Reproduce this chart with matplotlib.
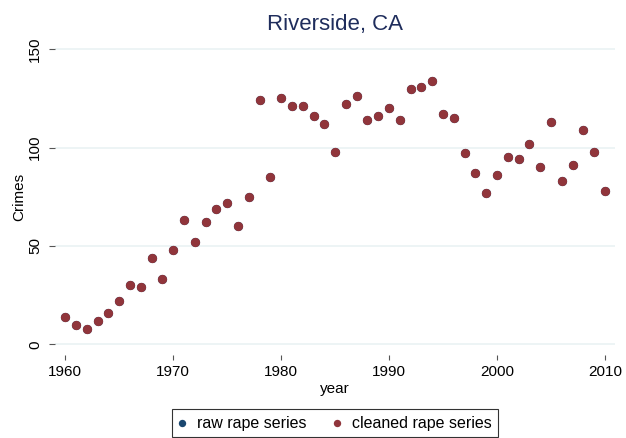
import matplotlib
matplotlib.use("Agg")
import matplotlib.pyplot as plt

plt.rcParams["font.family"] = ["Liberation Sans", "DejaVu Sans"]

years = list(range(1960, 2011))
cleaned = [14, 10, 8, 12, 16, 22, 30, 29, 44, 33,
           48, 63, 52, 62, 69, 72, 60, 75, 124, 85,
           125, 121, 121, 116, 112, 98, 122, 126, 114, 116,
           120, 114, 130, 131, 134, 117, 115, 97, 87, 77,
           86, 95, 94, 102, 90, 113, 83, 91, 109, 98,
           78]
# raw series sits under the cleaned one (same values)
raw = list(cleaned)

navy = "#1a476f"
maroon = "#90353b"

fig = plt.figure(figsize=(6.26, 4.38), dpi=100)
ax = fig.add_axes([55 / 626, 1 - 355 / 438, 560 / 626, 317 / 438])

ax.scatter(years, raw, s=44, color=navy, zorder=3, label="raw rape series", linewidths=0)
ax.scatter(years, cleaned, s=44, color=maroon, zorder=4, label="cleaned rape series", linewidths=0)

ax.set_xlim(1959.05, 2010.93)
ax.set_ylim(-5.44, 155.7)
ax.set_xticks([1960, 1970, 1980, 1990, 2000, 2010])
ax.set_yticks([0, 50, 100, 150])
ax.yaxis.grid(True, color="#eaf2f3", linewidth=1.2)
ax.set_axisbelow(True)
for s in ax.spines.values():
    s.set_visible(False)
ax.tick_params(axis="x", direction="out", length=3.8, width=0.8, color="#555555", labelsize=11, pad=3.5)
ax.tick_params(axis="y", direction="out", length=4.3, width=0.8, color="#555555", labelsize=11, pad=5)
for lab in ax.get_yticklabels():
    lab.set_rotation(90)
    lab.set_va("center")

ax.set_title("Riverside, CA", fontsize=16, color="#1f2d5c", pad=6)
ax.set_ylabel("Crimes", fontsize=11, labelpad=1)
ax.set_xlabel("year", fontsize=11, labelpad=2)

leg = fig.legend(loc="lower center", bbox_to_anchor=(335 / 626, 1 - 437 / 438), ncol=2, fontsize=11.5,
                 frameon=True, fancybox=False, edgecolor="black", markerscale=0.8,
                 handletextpad=0.65, handlelength=0.5, columnspacing=1.7, borderpad=0.4,
                 borderaxespad=0)
leg.get_frame().set_linewidth(0.8)

fig.savefig("out.png", dpi=100)
